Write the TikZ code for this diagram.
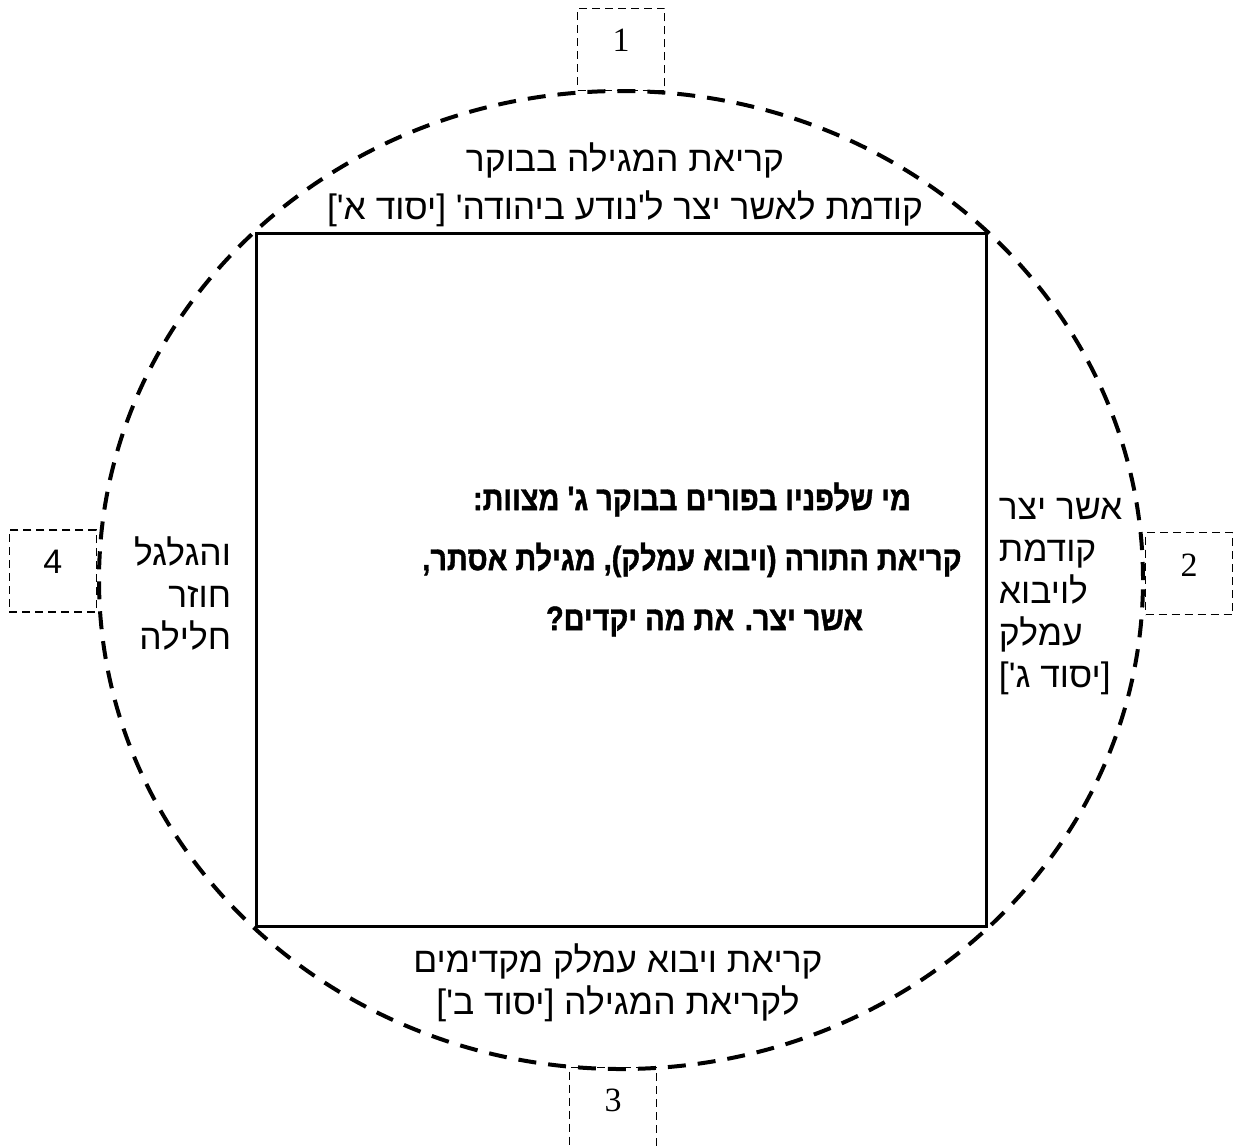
\documentclass[tikz,border=0pt]{standalone}
\usepackage{fontspec}
\setmainfont{Liberation Sans}
\newfontfamily\hebfont[Script=Hebrew]{Liberation Sans}
\newfontfamily\hebnegrita[Script=Hebrew, FakeStretch=0.85, FakeBold=1.2]{Liberation Sans Bold}
\newfontfamily\numfont{Liberation Serif}
\TeXXeTstate=1
\usetikzlibrary{positioning, shapes.geometric}
\tikzset{
  marcoCentral/.style={
    draw, line width=1.5pt, minimum width=365pt, minimum height=346.5pt, inner sep=0pt
  },
  textoCentral/.style={
    align=center, inner sep=0pt,
    font=\hebnegrita\fontsize{17}{30}\selectfont
  },
  elipseGuia/.style={
    ellipse, draw, line width=2pt, dash pattern=on 9pt off 6pt,
    minimum width=522pt, minimum height=489pt, inner sep=0pt
  },
  cajaNumero/.style={
    draw, line width=0.7pt, dash pattern=on 4pt off 2.5pt,
    minimum width=43.5pt, minimum height=41pt, inner sep=0pt,
    text height=11.5pt, text depth=9pt,
    font=\numfont\fontsize{17}{20}\selectfont
  },
  etiqueta/.style={align=center, inner sep=0pt, font=\hebfont\fontsize{17.7}{24}\selectfont},
}

\begin{document}
\begin{tikzpicture}[x=0.5pt, y=-0.5pt]
    \useasboundingbox (0,0) rectangle (1235,1147);
    \node[marcoCentral] (marco) at (621,579.5) {};
    \node[textoCentral] (pregunta) at ([xshift=35.5pt, yshift=10pt]marco.center) {\beginR מי שלפניו בפורים בבוקר ג' מצוות:\endR\\\beginR קריאת התורה (ויבוא עמלק), מגילת אסתר,\endR\hspace*{14pt}\\\hspace*{12.5pt}\beginR אשר יצר. את מה יקדים?\endR};
    \node[elipseGuia] (ciclo) at (621,580) {};

    % cajas numeradas sobre la elipse
    \node[cajaNumero, above=0pt of ciclo.north, yshift=-1pt] (num1) {1};
    \node[cajaNumero, right=0pt of ciclo.east, yshift=3.25pt] (num2) {2};
    \node[cajaNumero, below=0pt of ciclo.south, xshift=-4pt, yshift=2pt] (num3) {3};
    \node[cajaNumero, left=0pt of ciclo.west, yshift=4.5pt, font=\fontsize{17}{20}\selectfont] (num4) {4};

    % etiquetas de los lados
    \node[etiqueta, above=2pt of marco, xshift=2pt] (ladoArriba) {\beginR קריאת המגילה בבוקר\endR\\\beginR קודמת לאשר יצר ל'נודע ביהודה' [יסוד א']\endR};
    \node[etiqueta, align=left, right=5.5pt of marco.east, yshift=-8.5pt, font=\hebfont\fontsize{17.7}{21}\selectfont] (ladoDerecha) {\beginR אשר יצר\endR\\\beginR קודמת\endR\\\beginR לויבוא\endR\\\beginR עמלק\endR\\\beginR [יסוד ג']\endR};
    \node[etiqueta, align=right, left=11.5pt of marco.west, yshift=-7pt, font=\hebfont\fontsize{17.7}{21}\selectfont] (ladoIzquierda) {\beginR והגלגל\endR\\\beginR חוזר\endR\\\beginR חלילה\endR};
    \node[etiqueta, below=8pt of marco, xshift=-1.5pt, font=\hebfont\fontsize{17.7}{21}\selectfont] (ladoAbajo) {\beginR קריאת ויבוא עמלק מקדימים\endR\\\beginR לקריאת המגילה [יסוד ב']\endR};
\end{tikzpicture}
\end{document}
